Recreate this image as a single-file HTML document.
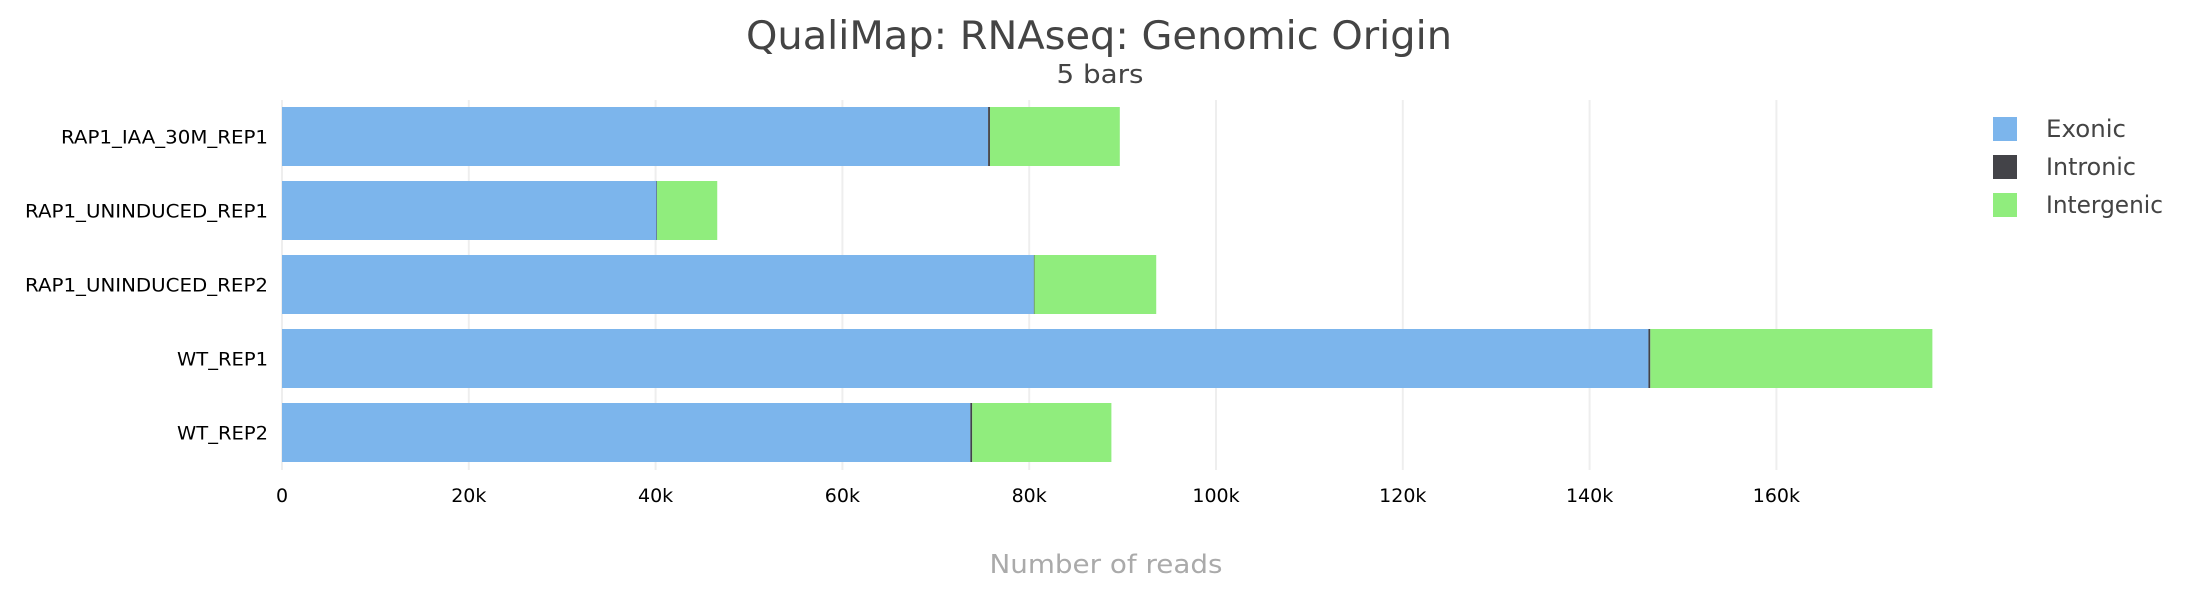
<!DOCTYPE html>
<html><head><meta charset="utf-8"><style>
html,body{margin:0;padding:0;background:#fff;}
svg{display:block;font-family:"DejaVu Sans","Liberation Sans",sans-serif;}
</style></head><body>
<svg id="chart" width="2200" height="600">
<text x="1099" y="49" text-anchor="middle" font-size="39" fill="#444" textLength="706" lengthAdjust="spacingAndGlyphs">QualiMap: RNAseq: Genomic Origin</text>
<text x="1100" y="83" text-anchor="middle" font-size="26" fill="#444" textLength="87" lengthAdjust="spacingAndGlyphs">5 bars</text>
<g id="grid"></g>
<g id="bars"></g>
<g id="ylabels"></g>
<g id="xticks"></g>
<text x="1106" y="573" text-anchor="middle" font-size="26" fill="#aaa" textLength="233" lengthAdjust="spacingAndGlyphs">Number of reads</text>
<g>
<g><rect x="1993" y="117" width="24" height="24" fill="#7cb5ec"/><text x="2046" y="137" font-size="24" fill="#444" textLength="80" lengthAdjust="spacingAndGlyphs">Exonic</text></g>
<g><rect x="1993" y="155" width="24" height="24" fill="#434348"/><text x="2046" y="175" font-size="24" fill="#444" textLength="90" lengthAdjust="spacingAndGlyphs">Intronic</text></g>
<g><rect x="1993" y="193" width="24" height="24" fill="#90ed7d"/><text x="2046" y="213" font-size="24" fill="#444" textLength="117" lengthAdjust="spacingAndGlyphs">Intergenic</text></g>
</g>
</svg>
<script>
const categories = ["RAP1_IAA_30M_REP1","RAP1_UNINDUCED_REP1","RAP1_UNINDUCED_REP2","WT_REP1","WT_REP2"];
const exonic = [75600, 40100, 80500, 146300, 73700];
const intronic = [200, 50, 50, 200, 200];
const intergenic = [13900, 6450, 13050, 30200, 14900];
const tickValues = [0,20000,40000,60000,80000,100000,120000,140000,160000];
const tickLabels = ["0","20k","40k","60k","80k","100k","120k","140k","160k"];
const labelWidths = [207,243,243,91,91];

const NS="http://www.w3.org/2000/svg";
const X0=282, PX_PER=186.8/20000;
const xs=v=>X0+v*PX_PER;
const yTop=i=>107+i*74;
const BH=59;
function mk(t,a,p){const e=document.createElementNS(NS,t);for(const k in a)e.setAttribute(k,a[k]);p.appendChild(e);return e;}
const grid=document.getElementById('grid'), bars=document.getElementById('bars'), yl=document.getElementById('ylabels'), xt=document.getElementById('xticks');
tickValues.forEach((v,i)=>{
  const l=mk('line',{x1:xs(v),x2:xs(v),y1:100,y2:470,stroke:'#eeeeee','stroke-width':2},grid);
  
  
  const t=mk('text',{x:xs(v),y:502,'text-anchor':'middle','font-size':19,fill:'#000'},xt);
  t.textContent=tickLabels[i];
  
  
});
const series=[[exonic,'#7cb5ec','exonic'],[intronic,'#434348','intronic'],[intergenic,'#90ed7d','intergenic']];
categories.forEach((c,i)=>{
  let acc=0;
  series.forEach(([arr,col,nm])=>{
    const w=Math.max(arr[i]*PX_PER, nm==='intronic'?1.5:0);
    const r=mk('rect',{x:xs(acc),y:yTop(i),width:w,height:BH,fill:col},bars);
    
    
    acc+=arr[i];
  });
  const t=mk('text',{x:268,y:yTop(i)+BH/2+7,'text-anchor':'end','font-size':19,fill:'#000',textLength:labelWidths[i],lengthAdjust:'spacingAndGlyphs'},yl);
  t.textContent=c;
  
  
});
</script>
</body></html>
